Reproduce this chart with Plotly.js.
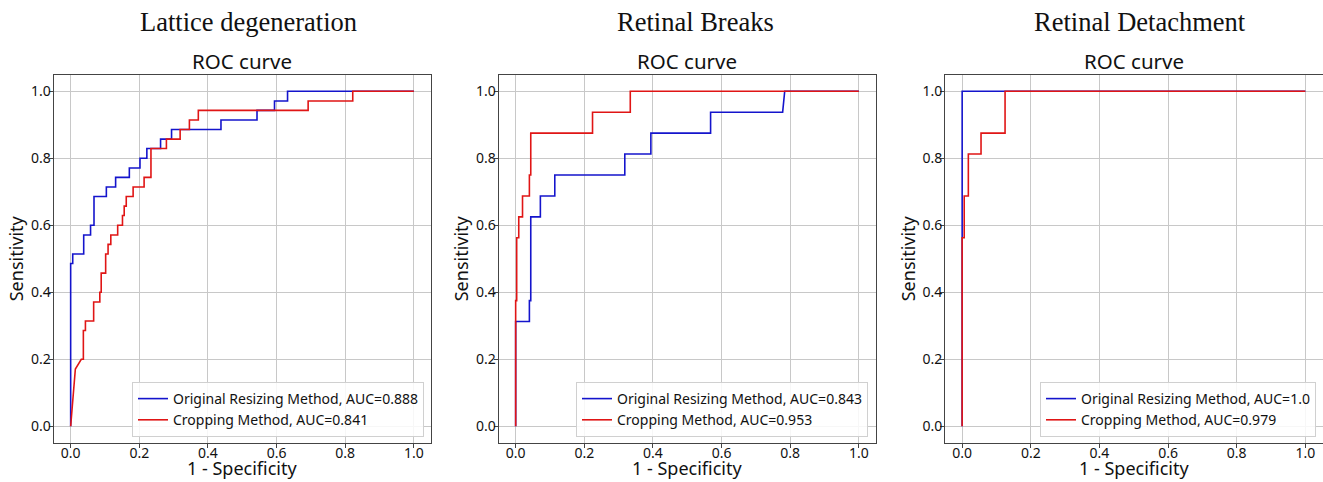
<!DOCTYPE html>
<html>
<head>
<meta charset="utf-8">
<script src="https://cdn.plot.ly/plotly-3.0.1.min.js"></script>
<style>html,body{margin:0;padding:0;background:#fff;}#chart{width:1323px;height:482px;}</style>
</head>
<body>
<div id="chart"></div>
<script>
// ---- data ----
const panelTitles = ["Lattice degeneration", "Retinal Breaks", "Retinal Detachment"];
const seriesNames = ["Original Resizing Method", "Cropping Method"];
const aucOriginal = ["0.888", "0.843", "1.0"];
const aucCropping = ["0.841", "0.953", "0.979"];
const tickVals = [0, 0.2, 0.4, 0.6, 0.8, 1.0];
const tickText = ["0.0", "0.2", "0.4", "0.6", "0.8", "1.0"];

// Lattice degeneration
const latticeOrigFpr = [0, 0, 0.006, 0.006, 0.038, 0.038, 0.058, 0.058, 0.068, 0.068, 0.104, 0.104, 0.131, 0.131, 0.171, 0.171, 0.202, 0.202, 0.222, 0.222, 0.262, 0.262, 0.294, 0.294, 0.438, 0.438, 0.543, 0.543, 0.594, 0.594, 0.632, 0.632, 1.0];
const latticeOrigTpr = [0, 0.486, 0.486, 0.514, 0.514, 0.571, 0.571, 0.6, 0.6, 0.686, 0.686, 0.714, 0.714, 0.743, 0.743, 0.771, 0.771, 0.8, 0.8, 0.829, 0.829, 0.857, 0.857, 0.886, 0.886, 0.914, 0.914, 0.943, 0.943, 0.971, 0.971, 1.0, 1.0];
const latticeCropFpr = [0, 0.0137, 0.031, 0.037, 0.037, 0.043, 0.043, 0.067, 0.067, 0.085, 0.085, 0.089, 0.089, 0.102, 0.102, 0.109, 0.109, 0.117, 0.117, 0.137, 0.137, 0.151, 0.151, 0.156, 0.156, 0.162, 0.162, 0.182, 0.182, 0.214, 0.214, 0.234, 0.234, 0.279, 0.279, 0.319, 0.319, 0.346, 0.346, 0.372, 0.372, 0.692, 0.692, 0.822, 0.822, 1.0];
const latticeCropTpr = [0, 0.171, 0.2, 0.2, 0.286, 0.286, 0.314, 0.314, 0.371, 0.371, 0.4, 0.4, 0.457, 0.457, 0.514, 0.514, 0.543, 0.543, 0.571, 0.571, 0.6, 0.6, 0.629, 0.629, 0.657, 0.657, 0.686, 0.686, 0.714, 0.714, 0.743, 0.743, 0.829, 0.829, 0.857, 0.857, 0.886, 0.886, 0.914, 0.914, 0.943, 0.943, 0.971, 0.971, 1.0, 1.0];

// Retinal Breaks
const breaksOrigFpr = [0, 0, 0.040, 0.040, 0.044, 0.044, 0.072, 0.072, 0.114, 0.114, 0.318, 0.318, 0.394, 0.394, 0.568, 0.568, 0.778, 0.784, 1.0];
const breaksOrigTpr = [0, 0.3125, 0.3125, 0.375, 0.375, 0.625, 0.625, 0.6875, 0.6875, 0.75, 0.75, 0.8125, 0.8125, 0.875, 0.875, 0.9375, 0.9375, 1.0, 1.0];
const breaksCropFpr = [0, 0, 0.003, 0.003, 0.009, 0.009, 0.020, 0.020, 0.040, 0.040, 0.044, 0.044, 0.224, 0.224, 0.334, 0.334, 1.0];
const breaksCropTpr = [0, 0.375, 0.375, 0.5625, 0.5625, 0.625, 0.625, 0.6875, 0.6875, 0.75, 0.75, 0.875, 0.875, 0.9375, 0.9375, 1.0, 1.0];

// Retinal Detachment
const detachOrigFpr = [0, 0, 1.0];
const detachOrigTpr = [0, 1.0, 1.0];
const detachCropFpr = [0, 0, 0.006, 0.006, 0.018, 0.018, 0.055, 0.055, 0.125, 0.125, 1.0];
const detachCropTpr = [0, 0.5625, 0.5625, 0.6875, 0.6875, 0.8125, 0.8125, 0.875, 0.875, 1.0, 1.0];

const origFprs = [latticeOrigFpr, breaksOrigFpr, detachOrigFpr];
const origTprs = [latticeOrigTpr, breaksOrigTpr, detachOrigTpr];
const cropFprs = [latticeCropFpr, breaksCropFpr, detachCropFpr];
const cropTprs = [latticeCropTpr, breaksCropTpr, detachCropTpr];

// ---- layout ----
const W = 1323, H = 482;
const SANS = "Noto Sans, Open Sans, DejaVu Sans, sans-serif";
const SERIF = "Liberation Serif, DejaVu Serif, serif";
const BLUE = "#1414cc", RED = "#e01515";
const plotLeft = [53.5, 498.5, 945];
const plotWidth = 377.5;
const plotTop = 74.5, plotBottom = 443;
const supTitleX = [248, 695, 1140];
const legendRight = [424, 868, 1316];

const data = [];
const layout = {
  width: W, height: H,
  margin: {l: 0, r: 0, t: 0, b: 0},
  paper_bgcolor: "#fff", plot_bgcolor: "#fff",
  font: {family: SANS, color: "#111", size: 14},
  annotations: [],
  showlegend: true
};

for (let i = 0; i < 3; i++) {
  const ax = i === 0 ? "" : String(i + 1);
  const lg = i === 0 ? "legend" : "legend" + (i + 1);
  data.push({
    x: origFprs[i], y: origTprs[i], type: "scatter", mode: "lines",
    xaxis: "x" + ax, yaxis: "y" + ax, legend: lg,
    name: seriesNames[0] + ", AUC=" + aucOriginal[i],
    line: {color: BLUE, width: 1.6}
  });
  data.push({
    x: cropFprs[i], y: cropTprs[i], type: "scatter", mode: "lines",
    xaxis: "x" + ax, yaxis: "y" + ax, legend: lg,
    name: seriesNames[1] + ", AUC=" + aucCropping[i],
    line: {color: RED, width: 1.6}
  });
  const common = {
    showgrid: true, gridcolor: "#c8c8c8", gridwidth: 1,
    zeroline: false, showline: true, linecolor: "#444", linewidth: 1, mirror: true,
    ticks: "outside", ticklen: 4, tickcolor: "#444",
    tickvals: tickVals, ticktext: tickText,
    tickfont: {family: SANS, size: 14, color: "#111"},
    range: [-0.05, 1.05], fixedrange: true
  };
  layout["xaxis" + ax] = Object.assign({}, common, {
    domain: [plotLeft[i] / W, (plotLeft[i] + plotWidth) / W],
    anchor: "y" + ax, ticklabelstandoff: -7
  });
  layout["yaxis" + ax] = Object.assign({}, common, {
    domain: [1 - plotBottom / H, 1 - plotTop / H],
    anchor: "x" + ax, ticklabelstandoff: -5,
    title: {text: "Sensitivity", font: {family: SANS, size: 18, color: "#111"}, standoff: 2}
  });
  layout[lg] = {
    x: legendRight[i] / W, xanchor: "right",
    y: 1 - 437 / H, yanchor: "bottom",
    bgcolor: "rgba(255,255,255,0.85)", bordercolor: "#d0d0d0", borderwidth: 1,
    font: {family: SANS, size: 14, color: "#111"},
    tracegroupgap: 0
  };
  layout.annotations.push({
    text: "1 - Specificity", xref: "paper", yref: "paper",
    x: (plotLeft[i] + plotWidth / 2) / W, y: 0, xanchor: "center", yanchor: "bottom",
    showarrow: false, font: {family: SANS, size: 18, color: "#111"}
  });
  layout.annotations.push({
    text: panelTitles[i], xref: "paper", yref: "paper",
    x: supTitleX[i] / W, y: 1 - 22 / H, xanchor: "center", yanchor: "middle",
    showarrow: false, font: {family: SERIF, size: 26.5, color: "#111"}
  });
  layout.annotations.push({
    text: "ROC curve", xref: "paper", yref: "paper",
    x: (plotLeft[i] + plotWidth / 2) / W, y: 1 - 61 / H, xanchor: "center", yanchor: "middle",
    showarrow: false, font: {family: SANS, size: 20.5, color: "#111"}
  });
}

Plotly.newPlot("chart", data, layout, {displayModeBar: false, staticPlot: true});
</script>
</body>
</html>
